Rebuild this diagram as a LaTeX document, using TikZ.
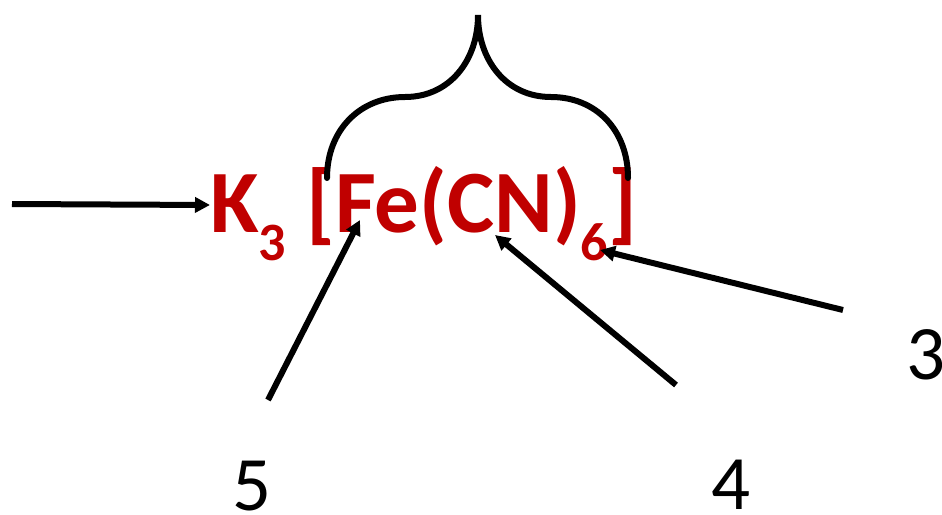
\documentclass[tikz,border=0pt]{standalone}
\usepackage{fontspec}
\setmainfont{Carlito}
\usetikzlibrary{arrows.meta}
\definecolor{chemred}{RGB}{192,0,0}
\tikzset{
  pointer/.style={line width=6pt, -{Triangle[length=15pt,width=15pt]}},
  bracecurve/.style={line width=6pt, line cap=round},
  numlabel/.style={font=\fontsize{77}{90}\selectfont, inner sep=0pt, anchor=base},
  formula/.style={font=\fontsize{89}{100}\selectfont\bfseries, text=chemred, inner sep=0pt, anchor=base west}
}
\newcommand{\chsub}[1]{\raisebox{-28pt}{\fontsize{54}{60}\selectfont #1}}
\begin{document}
\begin{tikzpicture}[x=1pt,y=-1pt]
\useasboundingbox (0,0) rectangle (942,514);
\node[formula] (f) at (210,232) {K\chsub{3} [Fe(CN)\chsub{6}]};
% brace
\draw[bracecurve] (327,178) .. controls (327,130) and (360,97) .. (405,97)
  .. controls (450,97) and (478,60) .. (478,15)
  .. controls (478,60) and (506,97) .. (551,97)
  .. controls (596,97) and (628,130) .. (628,178);
% labels
\node[numlabel] (l5) at (252,510) {5};
\node[numlabel] (l4) at (731,509) {4};
\node[numlabel] (l3) at (926,379) {3};
% arrow endpoints
\coordinate (s0) at (12,204);
\coordinate (t0) at (210,205);
\coordinate (s5) at (268,400);
\coordinate (t5) at (360,220);
\coordinate (s4) at (676,385);
\coordinate (t4) at (495,235);
\coordinate (s3) at (843,310);
\coordinate (t3) at (600,250);
\draw[pointer] (s0) -- (t0);
\draw[pointer] (s5) -- (t5);
\draw[pointer] (s4) -- (t4);
\draw[pointer] (s3) -- (t3);
\end{tikzpicture}
\end{document}
